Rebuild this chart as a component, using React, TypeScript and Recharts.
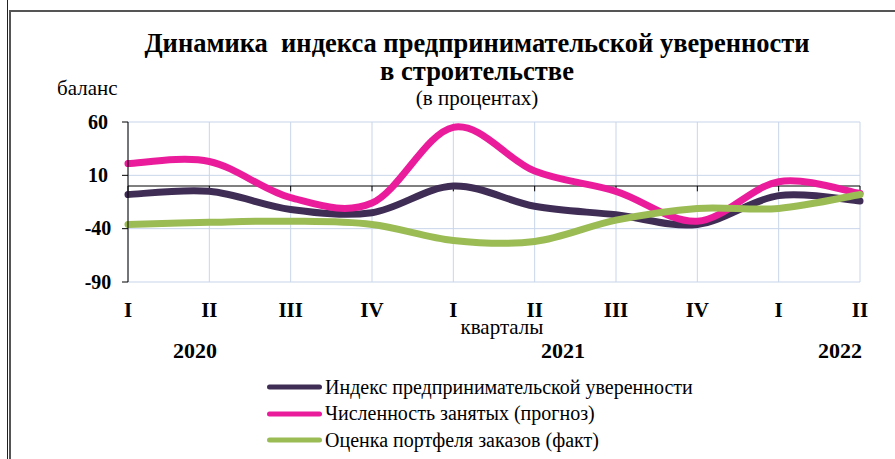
import React from "react";
import {
  LineChart,
  Line,
  XAxis,
  YAxis,
  CartesianGrid,
  ReferenceLine,
} from "recharts";

// quarters 2020 I .. 2022 II
const quarters = ["I", "II", "III", "IV", "I", "II", "III", "IV", "I", "II"];
const quarterYears = [2020, 2020, 2020, 2020, 2021, 2021, 2021, 2021, 2022, 2022];

// balance, %
const confidenceIndex = [-8, -5, -22, -25, 0, -19, -27, -36, -9, -14];
const employmentForecast = [21, 23, -11, -16, 55, 14, -5, -33, 4, -7];
const ordersActual = [-36, -34, -33, -36, -51, -52, -32, -21, -21, -8];

const yTicks = [60, 10, -40, -90];
const yearLabels = [
  { year: "2020", x: 195 },
  { year: "2021", x: 563 },
  { year: "2022", x: 840 },
];

const SERIES = [
  { key: "confidence", name: "Индекс предпринимательской уверенности", color: "#3f2d55" },
  { key: "employment", name: "Численность занятых (прогноз)", color: "#ea1c9b" },
  { key: "orders", name: "Оценка портфеля заказов (факт)", color: "#9bbb55" },
];

const FONT = '"Liberation Serif", "Times New Roman", serif';

const data = quarters.map((q, i) => ({
  key: `${quarterYears[i]} ${q}`,
  confidence: confidenceIndex[i],
  employment: employmentForecast[i],
  orders: ordersActual[i],
}));

// excel-style smoothed line (catmull-rom through the points)
function smoothCurve(context: any) {
  let pts: [number, number][] = [];
  return {
    areaStart() {},
    areaEnd() {},
    lineStart() {
      pts = [];
    },
    point(x: number, y: number) {
      pts.push([+x, +y]);
    },
    lineEnd() {
      const n = pts.length;
      if (!n) return;
      context.moveTo(pts[0][0], pts[0][1]);
      for (let i = 0; i < n - 1; i++) {
        const p0 = pts[Math.max(i - 1, 0)];
        const p1 = pts[i];
        const p2 = pts[i + 1];
        const p3 = pts[Math.min(i + 2, n - 1)];
        context.bezierCurveTo(
          p1[0] + (p2[0] - p0[0]) / 6,
          p1[1] + (p2[1] - p0[1]) / 6,
          p2[0] - (p3[0] - p1[0]) / 6,
          p2[1] - (p3[1] - p1[1]) / 6,
          p2[0],
          p2[1]
        );
      }
    },
  };
}

function QuarterTick({ x, y, payload }: any) {
  return (
    <text x={x} y={y + 33} textAnchor="middle" fontFamily={FONT} fontWeight="bold" fontSize={21} fill="#000">
      {String(payload.value).split(" ")[1]}
    </text>
  );
}

function ValueTick({ y, payload }: any) {
  return (
    <text x={98} y={y + 6.5} textAnchor="middle" fontFamily={FONT} fontWeight="bold" fontSize={20} fill="#000">
      {payload.value}
    </text>
  );
}

function LegendBox() {
  return (
    <div style={{ position: "absolute", left: 264, top: 374, fontFamily: FONT, fontSize: 20, color: "#000" }}>
      {SERIES.map((s) => (
        <div key={s.key} style={{ display: "flex", alignItems: "center", height: 26.5, whiteSpace: "nowrap" }}>
          <svg width={61} height={8} style={{ flex: "none" }}>
            <line x1={5.5} y1={4} x2={55.5} y2={4} stroke={s.color} strokeWidth={5} strokeLinecap="round" />
          </svg>
          {s.name}
        </div>
      ))}
    </div>
  );
}

const abs = (left: number, top: number, extra: React.CSSProperties = {}): React.CSSProperties => ({
  position: "absolute",
  left,
  top,
  fontFamily: FONT,
  color: "#000",
  whiteSpace: "nowrap",
  ...extra,
});

export default function App() {
  return (
    <div style={{ position: "absolute", left: 0, top: 0, width: 895, height: 459, background: "#fff", overflow: "hidden" }}>
      {/* frame */}
      <div style={{ position: "absolute", left: 7, top: 0, width: 1, height: 459, background: "#222" }} />
      <div style={{ position: "absolute", left: 9, top: 10, width: 886, height: 2, background: "#555" }} />
      <div style={{ position: "absolute", left: 9, top: 10, width: 2, height: 449, background: "#555" }} />

      <div style={abs(0, 28, { width: 954, textAlign: "center", fontSize: 26.5, fontWeight: "bold" })}>
        Динамика&nbsp; индекса предпринимательской уверенности
      </div>
      <div style={abs(0, 56, { width: 954, textAlign: "center", fontSize: 26.5, fontWeight: "bold" })}>
        в строительстве
      </div>
      <div style={abs(0, 86, { width: 954, textAlign: "center", fontSize: 21 })}>(в процентах)</div>
      <div style={abs(57, 76, { fontSize: 21 })}>баланс</div>

      <div style={abs(0, 318, { width: 1004, textAlign: "center", fontSize: 21, lineHeight: "19px" })}>кварталы</div>
      {yearLabels.map((l) => (
        <div key={l.year} style={abs(l.x - 40, 338, { width: 80, textAlign: "center", fontSize: 22, fontWeight: "bold" })}>
          {l.year}
        </div>
      ))}

      <LineChart
        width={895}
        height={459}
        data={data}
        margin={{ top: 122, right: 35, bottom: 147, left: 68 }}
        style={{ position: "absolute", left: 0, top: 0 }}
      >
        <CartesianGrid stroke="#c8d5ea" strokeWidth={1} />
        <XAxis
          dataKey="key"
          scale="point"
          padding={{ left: 0, right: 0 }}
          interval={0}
          axisLine={false}
          tickLine={false}
          tickSize={0}
          tick={<QuarterTick />}
          height={30}
        />
        <YAxis
          domain={[-90, 60]}
          ticks={yTicks}
          interval={0}
          width={60}
          axisLine={{ stroke: "#000" }}
          tickLine={{ stroke: "#000" }}
          tickSize={6}
          tick={<ValueTick />}
        />
        <ReferenceLine y={0} stroke="#000" strokeWidth={1} />
        {data.map((d) => (
          <ReferenceLine
            key={d.key}
            segment={[
              { x: d.key, y: 0 },
              { x: d.key, y: -5 },
            ]}
            stroke="#000"
            strokeWidth={1}
          />
        ))}
        {SERIES.map((s) => (
          <Line
            key={s.key}
            dataKey={s.key}
            name={s.name}
            type={smoothCurve as any}
            stroke={s.color}
            strokeWidth={7}
            strokeLinecap="round"
            dot={false}
            activeDot={false}
            isAnimationActive={false}
          />
        ))}
      </LineChart>
      <LegendBox />
    </div>
  );
}
